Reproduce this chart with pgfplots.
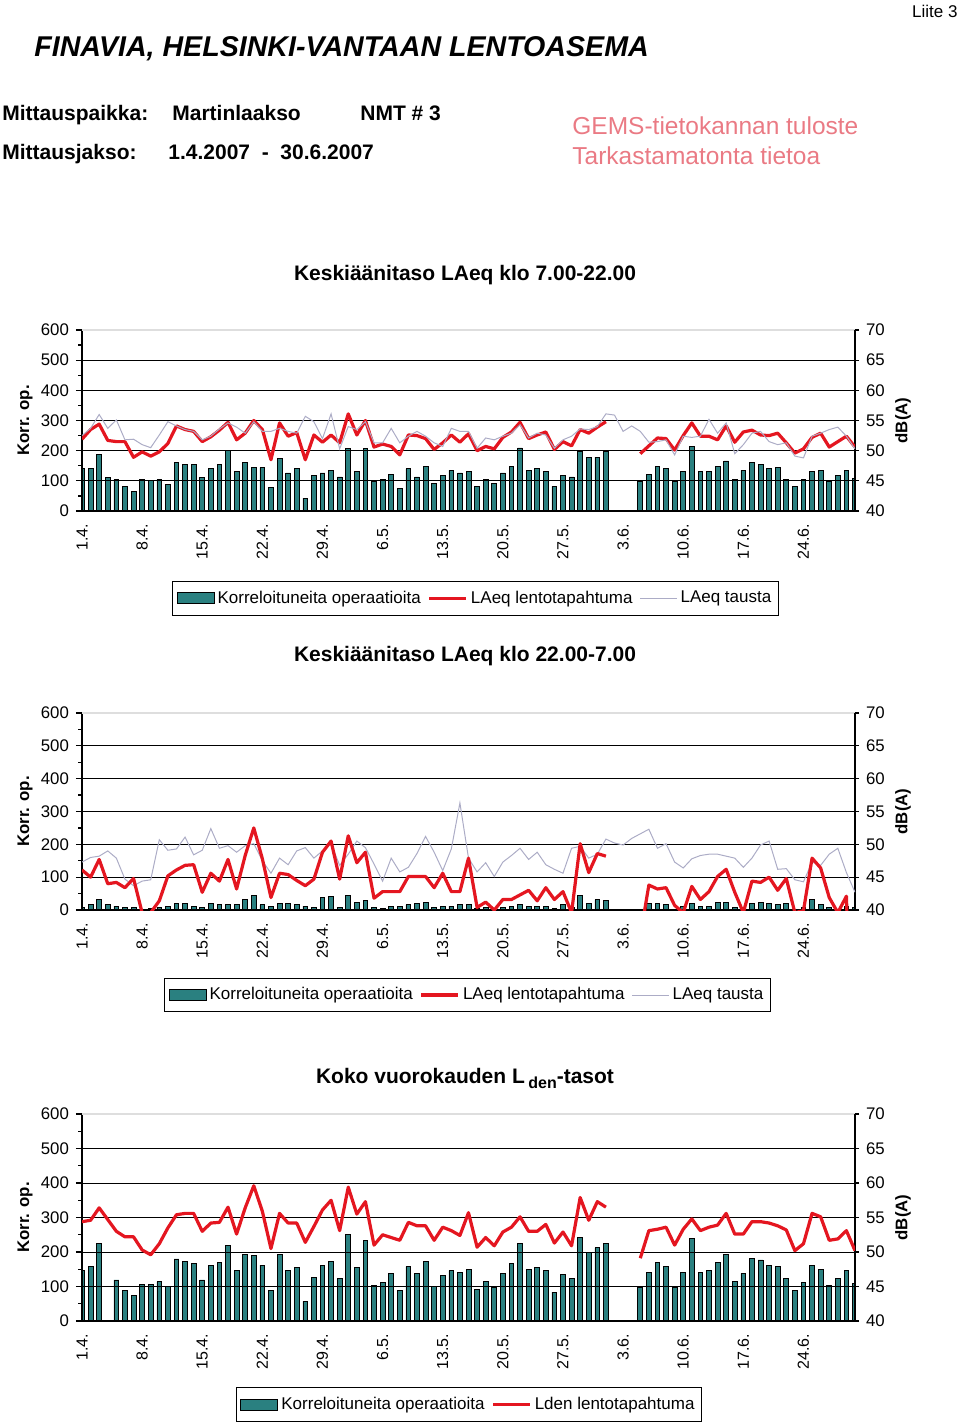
\documentclass[border=0pt]{standalone}
\usepackage{fontspec}
\setmainfont{Liberation Sans}
\usepackage{pgfplots}
\usepackage{pgfplotstable}
\pgfplotsset{compat=1.18}
\definecolor{barteal}{RGB}{42,128,128}
\definecolor{evred}{RGB}{228,22,32}
\definecolor{bggray}{RGB}{172,172,198}
\definecolor{pinktxt}{RGB}{234,122,132}

\pgfplotstableread{
day ops ev bg
0 140 51.9 52.5
1 140 53.5 53.7
2 187 54.4 56.0
3 112 51.7 53.7
4 104 51.5 55.1
5 82 51.5 51.8
6 65 48.9 51.9
7 104 49.8 51.0
8 100 49.1 50.5
9 104 49.8 52.6
10 87 51.2 54.8
11 162 54.1 54.1
12 153 53.5 53.5
13 153 53.2 53.2
14 112 51.5 51.8
15 140 52.3 52.4
16 153 53.4 53.6
17 200 54.7 54.6
18 131 51.8 53.9
19 162 52.9 52.9
20 144 55.0 54.8
21 144 53.5 53.2
22 78 48.5 53.2
23 175 54.6 53.7
24 126 52.4 53.2
25 140 53.0 52.9
26 43 48.5 55.7
27 118 52.6 54.8
28 126 51.4 52.0
29 135 52.6 56.1
30 113 51.3 50.3
31 206 56.1 54.0
32 131 52.6 53.5
33 206 55.0 54.8
34 97 50.6 51.3
35 104 51.1 51.3
36 122 50.7 53.7
37 74 49.3 51.3
38 140 52.6 52.4
39 113 52.5 53.2
40 149 52.0 52.4
41 91 50.2 51.3
42 118 51.3 50.7
43 135 52.6 53.7
44 126 51.4 53.2
45 131 52.8 53.2
46 82 50.0 50.4
47 104 50.7 52.1
48 91 50.3 51.8
49 126 52.2 52.4
50 149 53.1 52.9
51 209 54.7 54.3
52 135 52.0 52.1
53 140 52.6 52.9
54 131 53.1 52.6
55 82 50.2 50.4
56 118 51.5 51.8
57 113 50.8 52.4
58 198 53.5 53.6
59 179 52.9 53.5
60 179 53.9 54.0
61 198 54.8 56.1
62 nan nan 55.9
63 nan nan 53.2
64 nan nan 54.1
65 99 49.5 53.2
66 122 50.8 51.4
67 149 52.1 51.5
68 140 52.0 51.8
69 99 50.1 49.3
70 131 52.5 52.4
71 215 54.6 52.2
72 131 52.4 52.4
73 131 52.4 55.2
74 149 51.8 52.9
75 166 54.1 54.6
76 104 51.4 49.5
77 135 53.1 51.0
78 162 53.4 52.9
79 153 52.6 53.2
80 140 52.5 51.5
81 144 52.9 51.0
82 104 51.3 51.3
83 82 49.6 49.1
84 104 50.3 48.8
85 131 52.2 52.4
86 135 52.9 52.9
87 97 50.6 53.5
88 118 51.5 53.9
89 135 52.4 52.4
90 109 50.6 50.3
}\dataA

\pgfplotstableread{
day ops ev bg
0 7 46.1 47.3
1 16 45.0 48.0
2 32 47.7 48.2
3 16 44.0 49.0
4 12 44.2 47.9
5 8 43.4 44.7
6 8 44.8 43.7
7 3 39.6 44.4
8 6 39.6 44.6
9 9 41.4 50.7
10 12 45.2 49.1
11 20 46.1 49.3
12 20 46.8 51.1
13 12 46.9 48.4
14 8 42.7 49.1
15 20 45.6 52.4
16 16 44.4 49.4
17 16 47.7 49.8
18 16 43.2 48.8
19 32 48.3 49.8
20 45 52.5 50.1
21 16 47.8 47.5
22 12 41.9 45.6
23 20 45.6 47.9
24 20 45.4 46.9
25 16 44.5 49.0
26 12 43.7 49.5
27 8 44.7 47.9
28 37 48.8 49.0
29 41 50.5 50.1
30 8 44.7 46.8
31 45 51.3 48.5
32 24 47.2 50.5
33 28 48.8 49.5
34 8 41.8 47.0
35 4 42.8 44.4
36 12 42.8 47.9
37 12 42.8 45.8
38 16 45.1 46.5
39 20 45.1 48.6
40 24 45.1 51.2
41 8 43.4 48.8
42 12 45.6 46.0
43 12 42.8 49.3
44 16 42.8 56.3
45 16 47.9 47.9
46 4 40.4 45.8
47 8 41.2 47.2
48 2 40.0 45.1
49 8 41.6 47.3
50 12 41.6 48.3
51 16 42.3 49.4
52 12 43.0 47.7
53 12 41.4 48.8
54 12 43.4 46.9
55 4 41.6 46.2
56 16 42.8 45.6
57 8 39.6 49.4
58 45 50.1 49.7
59 20 45.7 47.9
60 32 48.6 48.5
61 28 48.2 50.8
62 nan nan 50.2
63 nan nan 49.9
64 nan nan 50.9
65 nan 36.0 51.6
66 20 43.8 52.3
67 20 43.2 49.4
68 16 43.4 50.1
69 2 40.7 47.3
70 12 39.6 46.4
71 20 43.6 47.8
72 12 41.6 48.3
73 12 42.8 48.5
74 24 45.1 48.5
75 24 46.2 48.2
76 8 42.7 47.9
77 4 39.6 46.5
78 20 44.4 47.9
79 24 44.2 49.9
80 20 45.0 50.5
81 16 43.0 46.2
82 20 44.8 46.3
83 2 39.6 44.6
84 8 39.9 44.3
85 32 47.9 47.3
86 16 46.4 46.8
87 8 41.9 48.5
88 2 39.6 49.4
89 12 42.1 45.7
90 8 0 42.7
}\dataB

\pgfplotstableread{
day ops ev
0 146 54.4
1 158 54.6
2 224 56.4
3 nan 54.7
4 119 53.0
5 88 52.2
6 73 52.2
7 107 50.3
8 107 49.6
9 114 51.2
10 100 53.5
11 180 55.4
12 172 55.6
13 166 55.6
14 119 53.0
15 162 54.2
16 169 54.3
17 219 56.5
18 146 52.6
19 192 56.4
20 189 59.6
21 162 55.9
22 88 50.5
23 192 55.6
24 146 54.2
25 154 54.2
26 57 51.4
27 127 53.7
28 162 56.1
29 173 57.5
30 123 53.1
31 250 59.4
32 154 55.5
33 234 57.3
34 104 51.0
35 111 52.5
36 138 52.1
37 88 51.7
38 158 54.3
39 138 53.8
40 173 53.8
41 100 51.7
42 131 53.6
43 146 53.1
44 142 52.4
45 150 55.7
46 92 50.7
47 115 52.1
48 98 50.9
49 138 52.9
50 166 53.6
51 224 55.1
52 150 53.0
53 154 53.0
54 146 54.0
55 84 51.3
56 135 52.9
57 123 50.9
58 243 57.9
59 200 54.6
60 212 57.3
61 224 56.5
62 nan nan
63 nan nan
64 nan nan
65 98 49.1
66 142 53.1
67 169 53.3
68 158 53.6
69 98 51.0
70 142 53.3
71 239 54.8
72 142 53.1
73 146 53.6
74 169 53.9
75 192 55.6
76 115 52.6
77 138 52.6
78 181 54.4
79 177 54.4
80 162 54.2
81 158 53.8
82 123 53.2
83 88 50.2
84 111 51.2
85 162 55.6
86 150 55.1
87 104 51.7
88 123 51.9
89 146 53.1
90 109 50.2
}\dataC

\pgfplotsset{
  panelbase/.style={scale only axis, width=386.5pt, xmin=0, xmax=90, anchor=south west,
    /pgf/number format/assume math mode=true,
    tick label style={font=\fontsize{8.4}{10}\selectfont},
    unbounded coords=jump, clip=true},
  leftax/.style={panelbase, ymin=0, ymax=600, axis y line*=left, axis x line*=bottom,
    axis on top,
    ytick={0,100,...,500}, extra y ticks={600},
    extra y tick style={major grid style={draw=black!13, line width=0.8pt}},
    minor ytick={50,150,...,550},
    ymajorgrids, major grid style={black, line width=0.5pt},
    tick align=outside, major tick length=3pt, minor tick length=2pt,
    xtick={0,7,...,84},
    xticklabels={1.4.,8.4.,15.4.,22.4.,29.4.,6.5.,13.5.,20.5.,27.5.,3.6.,10.6.,17.6.,24.6.},
    xtick style={draw=none},
    xticklabel style={rotate=90, anchor=east, font=\fontsize{8}{9}\selectfont},
    ylabel={\bfseries Korr. op.},
    ylabel style={at={(rel axis cs:-0.0737,0.5)}, anchor=center, font=\fontsize{8.4}{10}\selectfont},
    axis line style={black, line width=0.6pt}, ytick style={black, line width=0.6pt}},
  rightax/.style={panelbase, ymin=40, ymax=70, axis y line*=right, axis x line=none,
    xtick=\empty, ytick={40,45,...,70}, tick align=outside, major tick length=2pt,
    axis line style={black, line width=0.6pt}, ytick style={black, line width=0.6pt},
    ylabel={\bfseries dB(A)},
    ylabel style={at={(rel axis cs:1.0621,0.5)}, anchor=center, font=\fontsize{8.4}{10}\selectfont},
    legend columns=-1,
    legend style={anchor=center, draw=black, line width=0.5pt,
      font=\fontsize{8.5}{10}\selectfont, inner xsep=2pt, inner ysep=3pt,
      nodes={inner sep=1.5pt},
      /tikz/every even column/.append style={column sep=2pt}}},
  barsty/.style={ybar, bar width=2.4pt, fill=barteal, draw=black, line width=0.4pt},
  evsty/.style={evred, line width=1.6pt, line join=round,
    legend image code/.code={\draw[##1] (0pt,0pt) -- (18.5pt,0pt);}},
  bgsty/.style={bggray, line width=0.5pt,
    legend image code/.code={\draw[##1] (0pt,0pt) -- (18.5pt,0pt);}},
  barleg/.style={fill=barteal, draw=black, line width=0.5pt,
    legend image code/.code={\draw[##1] (0pt,-2.75pt) rectangle (18.5pt,2.75pt);}}
}

\begin{document}
\begin{tikzpicture}
\begin{scope}[x=0.5pt,y=-0.5pt]
\path[use as bounding box] (0,0) rectangle (960,1425);
\node[anchor=base east, inner sep=0, font=\fontsize{8.5}{10}\selectfont] at (958,17) {Liite 3};
\node[anchor=base west, inner sep=0, font=\fontsize{14.3}{16}\selectfont\bfseries\itshape] at (34,56) {FINAVIA, HELSINKI-VANTAAN LENTOASEMA};
\node[anchor=base west, inner sep=0, font=\fontsize{10.5}{12}\selectfont\bfseries] at (2,120) {Mittauspaikka:};
\node[anchor=base west, inner sep=0, font=\fontsize{10.5}{12}\selectfont\bfseries] at (172,120) {Martinlaakso};
\node[anchor=base west, inner sep=0, font=\fontsize{10.5}{12}\selectfont\bfseries] at (360,120) {NMT \# 3};
\node[anchor=base west, inner sep=0, font=\fontsize{10.5}{12}\selectfont\bfseries] at (2,159) {Mittausjakso:};
\node[anchor=base west, inner sep=0, font=\fontsize{10.5}{12}\selectfont\bfseries] at (168,159) {1.4.2007\ \ -\ \ 30.6.2007};
\node[anchor=base west, inner sep=0, text=pinktxt, font=\fontsize{12.25}{14}\selectfont] at (572,134) {GEMS-tietokannan tuloste};
\node[anchor=base west, inner sep=0, text=pinktxt, font=\fontsize{12.25}{14}\selectfont] at (572,164) {Tarkastamatonta tietoa};
\node[anchor=base, inner sep=0, font=\fontsize{10.5}{12}\selectfont\bfseries] at (465,280.5) {Keskiäänitaso LAeq klo 7.00-22.00};
\node[anchor=base, inner sep=0, font=\fontsize{10.5}{12}\selectfont\bfseries] at (465,661.5) {Keskiäänitaso LAeq klo 22.00-7.00};
\node[anchor=base, inner sep=0, font=\fontsize{10.5}{12}\selectfont\bfseries] at (465,1083.5) {Koko vuorokauden L\,\raisebox{-0.45ex}{\fontsize{8}{9}\selectfont den}-tasot};
\end{scope}

% Panel 1
\begin{axis}[leftax, at={(41pt,-255.5pt)}, height=90.5pt]
\addplot[barsty] table[x=day,y=ops]{\dataA};
\end{axis}
\begin{axis}[rightax, at={(41pt,-255.5pt)}, height=90.5pt,
  legend style={at={(rel axis cs:0.509,-0.483)}}]
\addlegendimage{barleg}
\addlegendentry{Korreloituneita operaatioita}
\addplot[evsty] table[x=day,y=ev]{\dataA};
\addlegendentry{LAeq lentotapahtuma}
\addplot[bgsty] table[x=day,y=bg]{\dataA};
\addlegendentry{LAeq tausta}
\end{axis}

% Panel 2
\begin{axis}[leftax, at={(41pt,-455pt)}, height=98.5pt]
\addplot[barsty] table[x=day,y=ops]{\dataB};
\end{axis}
\begin{axis}[rightax, at={(41pt,-455pt)}, height=98.5pt,
  legend style={at={(rel axis cs:0.4987,-0.4315)}}]
\addlegendimage{barleg}
\addlegendentry{Korreloituneita operaatioita}
\addplot[bgsty, forget plot] table[x=day,y=bg]{\dataB};
\addplot[evsty] table[x=day,y=ev]{\dataB};
\addlegendentry{LAeq lentotapahtuma}
\addlegendimage{bgsty}
\addlegendentry{LAeq tausta}
\end{axis}

% Panel 3
\begin{axis}[leftax, at={(41pt,-660.5pt)}, height=103.5pt]
\addplot[barsty] table[x=day,y=ops]{\dataC};
\end{axis}
\begin{axis}[rightax, at={(41pt,-660.5pt)}, height=103.5pt,
  legend style={at={(rel axis cs:0.5006,-0.4034)}}]
\addlegendimage{barleg}
\addlegendentry{Korreloituneita operaatioita}
\addplot[evsty] table[x=day,y=ev]{\dataC};
\addlegendentry{Lden lentotapahtuma}
\end{axis}
\end{tikzpicture}
\end{document}
